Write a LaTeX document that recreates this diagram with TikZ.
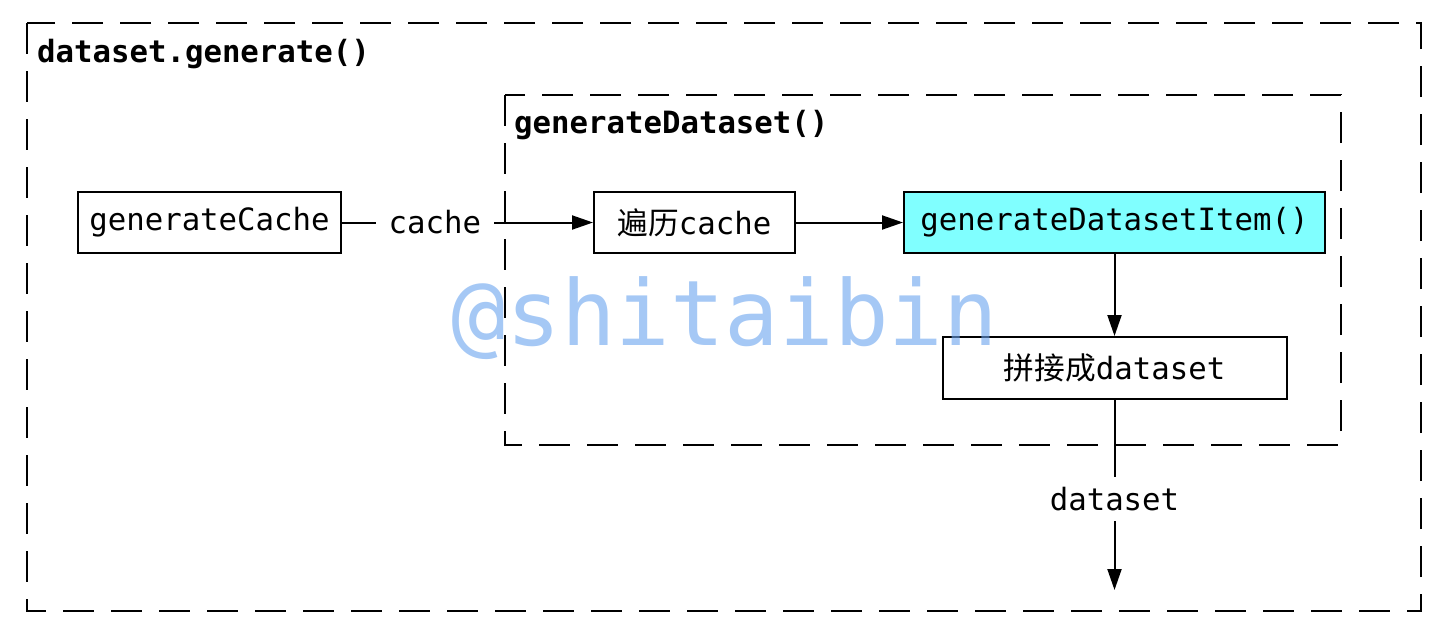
\documentclass[tikz,border=0pt]{standalone}
\usepackage{fontspec}
\setmainfont{DejaVu Sans Mono}
\newfontfamily\cjk{Noto Sans CJK SC}
\usetikzlibrary{arrows.meta}
\definecolor{boxcyan}{RGB}{128,255,255}
\definecolor{wmblue}{RGB}{105,163,238}
\tikzset{
  box/.style={draw=black, line width=2pt, fill=white, inner sep=0pt, font=\fontsize{30.7}{36}\selectfont},
  frame/.style={draw=black, line width=2.2pt, dash pattern=on 31pt off 17pt},
  title/.style={anchor=base west, inner sep=0pt, font=\fontsize{30.7}{36}\selectfont\bfseries},
  conn/.style={line width=2pt, -{Triangle[length=21pt,width=14pt]}},
  lbl/.style={fill=white, font=\fontsize{30.7}{36}\selectfont},
}
\begin{document}
\begin{tikzpicture}[x=1pt,y=-1pt]
\useasboundingbox (0,0) rectangle (1438,622);
% frames
\draw[frame] (27,23) rectangle (1421,611);
\draw[frame] (505,95) rectangle (1341,445);
\node[title] (t1) at (37,62) {dataset.generate()};
\node[title] (t2) at (514,133) {generateDataset()};
% boxes
\node[box, minimum width=263pt, minimum height=61pt] (gc) at (209.5,222.5) {generateCache};
\node[box, minimum width=201pt, minimum height=61pt] (loop) at (694.5,222.5) {{\cjk 遍历}cache};
\node[box, fill=boxcyan, minimum width=421pt, minimum height=61pt] (item) at (1114.5,222.5) {generateDatasetItem()};
\node[box, minimum width=344pt, minimum height=62pt] (join) at (1114.5,368) {{\cjk 拼接成}dataset};
\coordinate (out) at (1114.5,590);
% connectors
\draw[conn] (gc.east) -- node[lbl, pos=0.37, inner xsep=13pt] {cache} (loop.west);
\draw[conn] (loop.east) -- (item.west);
\draw[conn] (item.south) -- (join.north);
\draw[conn] (join.south) -- node[lbl, pos=0.52, inner xsep=4pt, inner ysep=10pt] {dataset} (out);
% watermark
\node[anchor=base, inner sep=0pt, text=wmblue, opacity=0.6, font=\fontsize{90.7}{100}\selectfont] (wm) at (725,345) {@shitaibin};
\end{tikzpicture}
\end{document}
